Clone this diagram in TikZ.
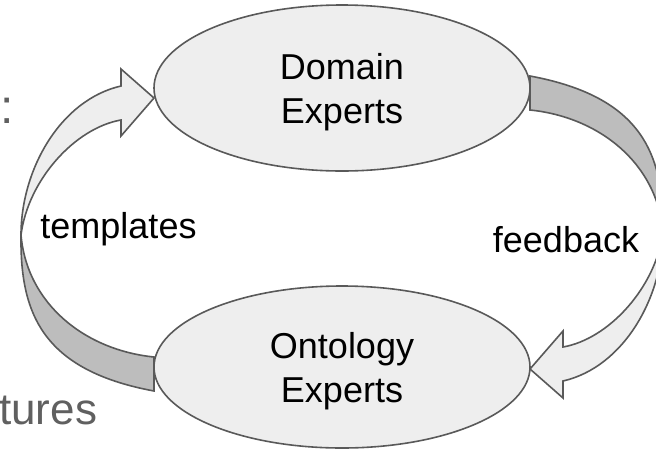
\documentclass[tikz,border=0pt]{standalone}
\usepackage{fontspec}
\setmainfont{Liberation Sans}
\usetikzlibrary{shapes.geometric}
\definecolor{edgegray}{HTML}{595959}
\definecolor{lightfill}{HTML}{EEEEEE}
\definecolor{darkfill}{HTML}{BDBDBD}
\definecolor{bgtext}{HTML}{606060}
\tikzset{
  bubble/.style={ellipse, draw=edgegray, fill=lightfill, line width=1.6pt, minimum width=376pt, inner sep=0pt},
  lbl/.style={inner sep=0pt, align=center, font=\fontsize{36}{44}\selectfont, text=black},
  bglbl/.style={inner sep=0pt, text=bgtext},
  frontface/.style={draw=edgegray, fill=lightfill, line width=1.6pt, line join=miter},
  backface/.style={draw=edgegray, fill=darkfill, line width=1.6pt, line join=miter}
}
\begin{document}
\begin{tikzpicture}[x=1pt,y=-1pt]
\useasboundingbox (0,0) rectangle (656,448);
\clip (0,0) rectangle (656,448);
% background remnants
\node[bglbl, anchor=base west, font=\fontsize{48}{54}\selectfont] (colon) at (0,123) {:};
\node[bglbl, anchor=base west, font=\fontsize{44}{50}\selectfont] (tures) at (-1,424) {tures};
% left curved arrow (templates)
\path[backface] (154,357) .. controls (85,350) and (27,304) .. (21,235)
   .. controls (20,312) and (41,370) .. (154,391) -- cycle;
\path[frontface] (154,98) -- (121,69) -- (121,86) .. controls (60,100) and (21,170) .. (21,235)
   .. controls (28,180) and (75,128) .. (121,120) -- (121,136) -- cycle;
% right curved arrow (feedback), same shape turned half round
\begin{scope}[rotate around={180:(342,233.5)}]
\path[backface] (154,357) .. controls (85,350) and (27,304) .. (21,235)
   .. controls (20,312) and (41,370) .. (154,391) -- cycle;
\path[frontface] (154,98) -- (121,69) -- (121,86) .. controls (60,100) and (21,170) .. (21,235)
   .. controls (28,180) and (75,128) .. (121,120) -- (121,136) -- cycle;
\end{scope}
% ellipses
\node[bubble, minimum height=166pt] (dom) at (342,88) {};
\node[bubble, minimum height=162pt] (ont) at (342,367) {};
% labels (base anchor is the baseline of the last line)
\node[lbl, anchor=base] (domt) at (342,123) {Domain\\Experts};
\node[lbl, anchor=base] (ontt) at (342,402) {Ontology\\Experts};
\node[lbl, anchor=base] (tmpl) at (118.5,238) {templates};
\node[lbl, anchor=base] (fdbk) at (566,252) {feedback};
\end{tikzpicture}
\end{document}
